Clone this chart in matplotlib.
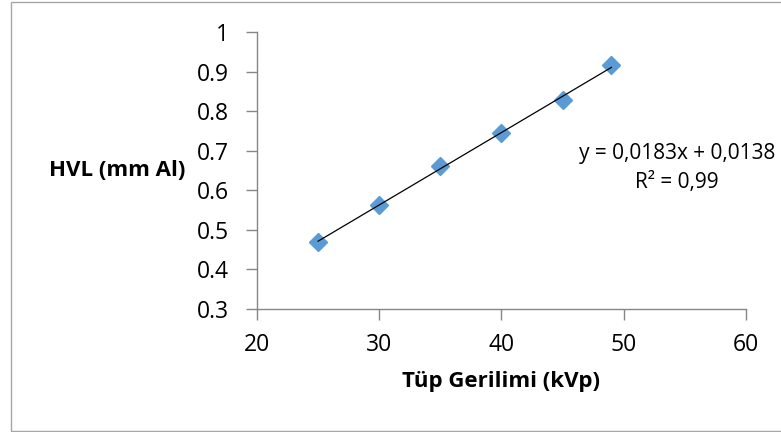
import matplotlib.pyplot as plt
from matplotlib.patches import Rectangle
import numpy as np

plt.rcParams['font.family'] = ['Open Sans', 'DejaVu Sans']

# measured HVL values
kvp = [25, 30, 35, 40, 45, 49]
hvl = [0.470, 0.563, 0.662, 0.744, 0.828, 0.917]

# trendline as reported
slope = 0.0183
intercept = 0.0138
eq_text = "y = 0,0183x + 0,0138\nR² = 0,99"

xticks = [20, 30, 40, 50, 60]
yticks = [0.3, 0.4, 0.5, 0.6, 0.7, 0.8, 0.9, 1.0]
ytick_labels = ["0.3", "0.4", "0.5", "0.6", "0.7", "0.8", "0.9", "1"]

fig = plt.figure(figsize=(7.81, 4.32), dpi=100)
ax = fig.add_axes([0.329, 0.2847, 0.626, 0.6413])

# chart border
fig.patches.append(Rectangle((11 / 781, 1 / 432), 1.0, 429 / 432, transform=fig.transFigure,
                             fill=False, edgecolor='#a6a6a6', linewidth=1.0))

ax.plot(kvp, hvl, linestyle='none', marker='D', markersize=9.5,
        color='#5b9bd5', markeredgecolor='#5b9bd5', zorder=2)

xfit = np.array([min(kvp), max(kvp)])
ax.plot(xfit, slope * xfit + intercept, color='black', linewidth=0.9, zorder=3)

ax.set_xlim(20, 60)
ax.set_ylim(0.3, 1.0)
ax.set_xticks(xticks)
ax.set_yticks(yticks)
ax.set_yticklabels(ytick_labels)

for s in ['top', 'right']:
    ax.spines[s].set_visible(False)
for s in ['left', 'bottom']:
    ax.spines[s].set_color('#868686')
    ax.spines[s].set_linewidth(1.0)
ax.tick_params(direction='out', length=8, width=1, color='#868686', labelsize=16.5)
ax.tick_params(axis='y', pad=12)
ax.tick_params(axis='x', pad=9)

fig.text(117 / 781, 1 - 171 / 432, "HVL (mm Al)", fontsize=16, fontweight='bold',
         ha='center', va='center')
fig.text(501 / 781, 1 - 382 / 432, "Tüp Gerilimi (kVp)", fontsize=16, fontweight='bold',
         ha='center', va='center')
fig.text(677 / 781, 1 - 168 / 432, eq_text, fontsize=15, ha='center', va='center',
         linespacing=1.45)

fig.savefig("out.png", dpi=100)
